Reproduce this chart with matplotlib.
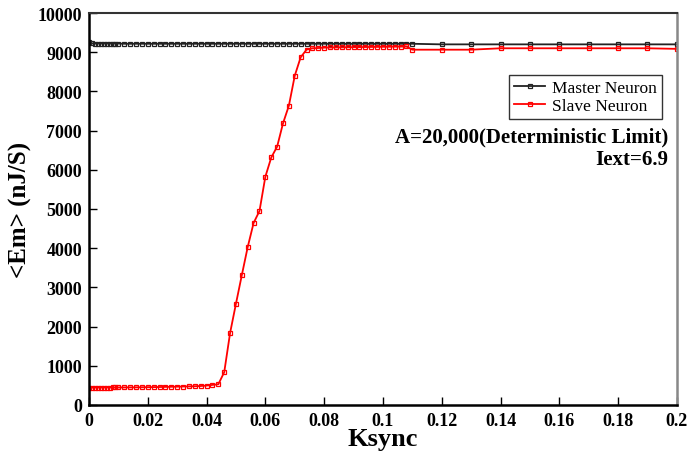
import numpy as np
import matplotlib
matplotlib.use("Agg")
import matplotlib.pyplot as plt
from matplotlib.ticker import FuncFormatter

plt.rcParams['font.family'] = ['Liberation Serif', 'DejaVu Serif']

# Ksync values (fine steps, then medium, then coarse)
ksync = ([round(0.001 * i, 3) for i in range(0, 11)]
         + [round(0.012 + 0.002 * i, 3) for i in range(0, 50)]
         + [round(0.12 + 0.01 * i, 2) for i in range(0, 9)])

master = ([9250, 9225, 9220, 9220, 9220, 9220, 9220, 9220, 9220, 9220, 9220]
          + [9215] * 50
          + [9200] * 9)

slave = ([440, 440, 441, 441, 442, 442, 443, 443, 444, 444, 445]
         + [446, 447, 448, 450, 452, 454, 456, 459, 462, 465, 468, 472, 476,
            482, 493, 510, 527, 834, 1837, 2585, 3316, 4031, 4643, 4949,
            5825, 6313, 6590, 7185, 7636, 8401, 8869, 9065, 9099, 9107, 9116,
            9120, 9122, 9124, 9126, 9128, 9130, 9132, 9134, 9136, 9138, 9140,
            9142, 9144, 9146, 9064]
         + [9064, 9064, 9100, 9100, 9100, 9100, 9100, 9100, 9085])

fig = plt.figure(figsize=(6.9, 4.52), dpi=100)
ax = fig.add_axes([0.129, 0.102, 0.852, 0.867])

ax.plot(ksync, master, color='#222222', lw=1.3, marker='s', ms=3.2,
        mfc='none', mec='#222222', mew=0.9, label='Master Neuron')
ax.plot(ksync, slave, color='red', lw=1.3, marker='s', ms=3.2,
        mfc='none', mec='red', mew=0.9, label='Slave Neuron')

ax.set_xlim(0, 0.2)
ax.set_ylim(0, 10000)
ax.set_xticks(np.arange(0, 0.2001, 0.02))
ax.set_yticks(np.arange(0, 10001, 1000))
ax.xaxis.set_major_formatter(FuncFormatter(lambda v, p: '%g' % round(v, 3)))
ax.tick_params(direction='in', length=6, width=1, labelsize=13, pad=5)
for lab in ax.get_xticklabels() + ax.get_yticklabels():
    lab.set_fontweight('bold')

ax.spines['left'].set_linewidth(1.8)
ax.spines['bottom'].set_linewidth(1.8)
ax.spines['top'].set_color('#333333')
ax.spines['top'].set_linewidth(1.5)
ax.spines['right'].set_color('#888888')
ax.spines['right'].set_linewidth(1.8)

ax.set_xlabel('Ksync', fontsize=19, fontweight='bold', labelpad=-1)
ax.set_ylabel('<Em> (nJ/S)', fontsize=18, fontweight='bold', labelpad=4)

leg = ax.legend(loc='upper right', bbox_to_anchor=(0.99, 0.865),
                fontsize=12.5, frameon=True, fancybox=False,
                handlelength=1.8, borderpad=0.3, labelspacing=0.1,
                handletextpad=0.4)
leg.get_frame().set_edgecolor('black')
leg.get_frame().set_linewidth(1.0)

ax.text(0.985, 0.684, 'A=20,000(Deterministic Limit)', transform=ax.transAxes,
        ha='right', va='center', fontsize=15, fontweight='bold')
ax.text(0.985, 0.628, 'Iext=6.9', transform=ax.transAxes,
        ha='right', va='center', fontsize=15, fontweight='bold')

fig.savefig('out.png', dpi=100)
